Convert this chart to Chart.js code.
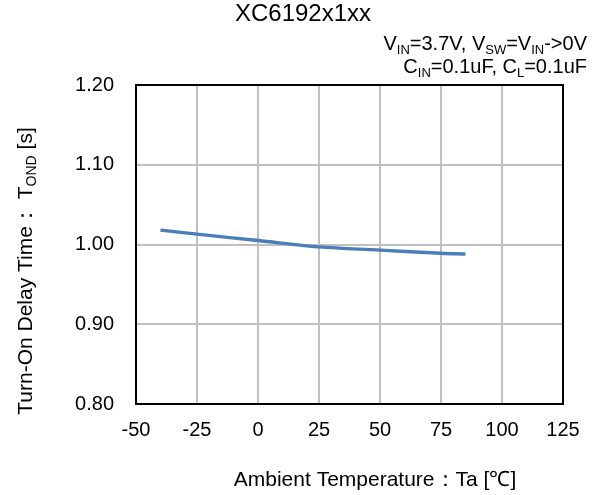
<!DOCTYPE html>
<html>
<head>
<meta charset="utf-8">
<script src="https://cdn.jsdelivr.net/npm/chart.js@4"></script>
<style>
html,body{margin:0;padding:0;background:#fff;}
#wrap{width:603px;height:495px;}
</style>
</head>
<body>
<div id="wrap"><canvas id="c" width="603" height="495"></canvas></div>
<script>
// Data
const temperatures = [-40, -25, 0, 25, 50, 75, 85];
const tondValues = [1.018, 1.013, 1.005, 0.997, 0.993, 0.989, 0.988];
const xTicks = [-50, -25, 0, 25, 50, 75, 100, 125];
const yTicks = [0.80, 0.90, 1.00, 1.10, 1.20];

const titleText = 'XC6192x1xx';
const condLine1 = [{t:'V'},{t:'IN',sub:true},{t:'=3.7V, V'},{t:'SW',sub:true},{t:'=V'},{t:'IN',sub:true},{t:'->0V'}];
const condLine2 = [{t:'C'},{t:'IN',sub:true},{t:'=0.1uF, C'},{t:'L',sub:true},{t:'=0.1uF'}];
const yTitleRuns = [{t:'Turn-On Delay Time\uFF1A T'},{t:'OND',sub:true},{t:' [s]'}];
const xTitleText = 'Ambient Temperature\uFF1ATa [\u2103]';

const FR = '"Liberation Sans", Arial, sans-serif';

function rich(ctx, runs, x, y, align, mainFont, subFont, subDy) {
  let w = 0;
  runs.forEach(r => { ctx.font = r.sub ? subFont : mainFont; w += ctx.measureText(r.t).width; });
  let cx = align === 'right' ? x - w : (align === 'center' ? x - w / 2 : x);
  ctx.textAlign = 'left';
  ctx.textBaseline = 'alphabetic';
  runs.forEach(r => {
    ctx.font = r.sub ? subFont : mainFont;
    ctx.fillText(r.t, cx, y + (r.sub ? subDy : 0));
    cx += ctx.measureText(r.t).width;
  });
}

const decor = {
  id: 'decor',
  afterDraw(chart) {
    const ctx = chart.ctx, a = chart.chartArea;
    ctx.save();
    ctx.strokeStyle = '#000';
    ctx.lineWidth = 2;
    ctx.strokeRect(a.left, a.top, a.right - a.left, a.bottom - a.top);
    ctx.fillStyle = '#000';
    // title
    ctx.font = '24px ' + FR;
    ctx.textAlign = 'center';
    ctx.textBaseline = 'alphabetic';
    ctx.fillText(titleText, 303, 21);
    // conditions
    rich(ctx, condLine1, 587, 50, 'right', '20px ' + FR, '13px ' + FR, 4);
    rich(ctx, condLine2, 587, 73, 'right', '20px ' + FR, '13px ' + FR, 4);
    // x title
    ctx.font = '21px ' + FR;
    ctx.textAlign = 'center';
    ctx.textBaseline = 'alphabetic';
    ctx.fillText(xTitleText, 375, 486);
    // y title
    ctx.translate(32, 271);
    ctx.rotate(-Math.PI / 2);
    rich(ctx, yTitleRuns, 0, 0, 'center', '21px ' + FR, '14px ' + FR, 4);
    ctx.restore();
  }
};

new Chart(document.getElementById('c'), {
  type: 'line',
  data: {
    datasets: [{
      data: temperatures.map((t, i) => ({x: t, y: tondValues[i]})),
      borderColor: '#4a7ebb',
      borderWidth: 3.4,
      pointRadius: 0,
      tension: 0.35,
      fill: false
    }]
  },
  options: {
    responsive: false,
    animation: false,
    devicePixelRatio: 1,
    layout: {padding: {left: 0, top: 85, right: 40, bottom: 51}},
    plugins: {legend: {display: false}, tooltip: {enabled: false}, title: {display: false}},
    scales: {
      x: {
        type: 'linear', min: -50, max: 125,
        afterBuildTicks: s => { s.ticks = xTicks.map(v => ({value: v})); },
        afterFit: s => { s.height = 40; },
        grid: {color: '#c0c0c0', lineWidth: 2, drawTicks: false},
        border: {display: false},
        ticks: {color: '#000', font: {family: FR, size: 20}, padding: 14, maxRotation: 0, callback: v => String(v)}
      },
      y: {
        type: 'linear', min: 0.8, max: 1.2,
        afterBuildTicks: s => { s.ticks = yTicks.map(v => ({value: v})); },
        afterFit: s => { s.width = 136; },
        grid: {color: '#c0c0c0', lineWidth: 2, drawTicks: false},
        border: {display: false},
        ticks: {color: '#000', font: {family: FR, size: 20}, padding: 22, callback: v => Number(v).toFixed(2)}
      }
    }
  },
  plugins: [decor]
});
</script>
</body>
</html>
